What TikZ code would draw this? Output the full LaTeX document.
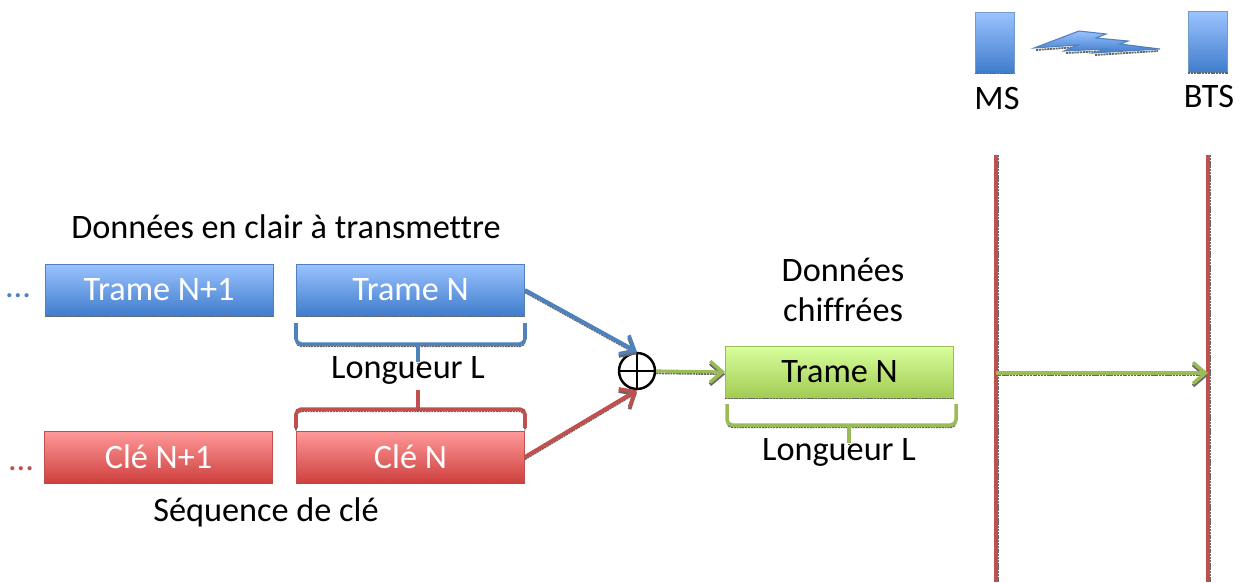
\documentclass[tikz,border=0pt]{standalone}
\usepackage{fontspec}
\setmainfont[Ligatures=NoCommon]{Carlito}
\usetikzlibrary{arrows.meta}
\definecolor{bluel}{HTML}{4F81BD}
\definecolor{redl}{HTML}{C0504D}
\definecolor{greenl}{HTML}{9BBB59}
\definecolor{bluet}{RGB}{155,195,255}
\definecolor{blueb}{RGB}{63,124,203}
\tikzset{
  shad/.style={preaction={draw=black!60, line width=1pt, dash pattern=on 1.2pt off .4pt, transform canvas={yshift=-1.3pt}}},
  block/.style={rectangle, draw=#1, line width=.5pt, inner sep=0pt, minimum width=4.56cm, minimum height=1.04cm, text depth=.2ex, font=\fontsize{19.5}{23}\selectfont},
  blueblock/.style={block=bluel, text=white, top color=bluet, bottom color=blueb},
  redblock/.style={block=redl, text=white, top color={rgb,255:red,255;green,154;blue,154}, bottom color={rgb,255:red,205;green,63;blue,61}},
  greenblock/.style={block=greenl, text=black, top color={rgb,255:red,215;green,255;blue,156}, bottom color={rgb,255:red,162;green,203;blue,83}},
  station/.style={rectangle, draw=bluel!80, line width=.5pt, inner sep=0pt, minimum width=.78cm, minimum height=1.22cm, top color=bluet, bottom color=blueb},
  label/.style={inner sep=0pt, align=center, font=\fontsize{19.5}{23}\selectfont},
  fleche/.style={shad, line width=2.2pt, -{Straight Barb[length=7pt,width=12pt,line width=2pt]}},
  accol/.style={shad, line width=2pt, rounded corners=3pt},
  shadline/.style={black!60, line width=1pt, dash pattern=on 1.2pt off .4pt},
}
\begin{document}
\begin{tikzpicture}[x=0.02cm, y=-0.02cm]
\useasboundingbox (0,0) rectangle (1241,582);
% blocs
\node[blueblock] (trameNp) at (159,290) {Trame N+1};
\node[blueblock] (trameN) at (410.5,290) {Trame N};
\node[redblock] (cleNp) at (158.5,457) {Clé N+1};
\node[redblock] (cleN) at (410.5,457) {Clé N};
\node[greenblock] (chiffre) at (839.5,372) {Trame N};
\node[station] (ms) at (994.5,42.5) {};
\node[station] (bts) at (1208,42) {};
\foreach \n in {trameNp,trameN,cleNp,cleN,chiffre,ms,bts}
  \draw[shadline] (\n.south west)--(\n.south east);
\node[circle, draw, line width=1.4pt, minimum size=.72cm, inner sep=0pt] (xor) at (637,371) {};
\draw[line width=1.4pt] (xor.north)--(xor.south);
\draw[line width=1.4pt] (xor.west)--(xor.east);

% textes
\node[label] (clair) at (286,227) {Données en clair à transmettre};
\node[label] (longA) at (408,370) {Longueur L};
\node[label] (seq) at (266,512) {Séquence de clé};
\node[label] (donnees) at (843,290) {Données\\[-.5pt]chiffrées};
\node[label] (longB) at (839,452) {Longueur L};
\node[label] (mstxt) at (997,98) {MS};
\node[label] (btstxt) at (1209,96) {BTS};
\node[label, text=bluel, anchor=base] (dotsA) at (18,297) {...};
\node[label, text=redl, anchor=base] (dotsB) at (21,470) {...};

% fleches
\draw[fleche, bluel] (trameN.east)--(xor.north);
\draw[fleche, redl] (cleN.east)--(xor.south);
\draw[fleche, greenl, line width=1.8pt] (xor.east)--(chiffre.west);

% accolades
\draw[accol, bluel] (296,323)--(296,344)--(525,344)--(525,323);
\draw[accol, bluel, rounded corners=0pt] (418,344)--(418,362);
\draw[accol, redl] (296,428)--(296,409)--(525,409)--(525,428);
\draw[accol, redl, rounded corners=0pt] (418,409)--(418,390);
\draw[accol, greenl] (727,404)--(727,425)--(956,425)--(956,404);
\draw[accol, greenl, rounded corners=0pt] (849,425)--(849,443);

% liaison radio
\draw[shadline] (1036,50)--(1078,47);
\draw[shadline] (1066,53)--(1106,51);
\draw[shadline] (1095,55)--(1158,51);
\draw[draw=bluel, line width=.6pt, top color=bluet, bottom color=blueb] (1034,48)--(1079,31)--(1106,34)--(1096,38)--(1128,41)--(1120,44)--(1160,49)--(1093,53)--(1106,49)--(1064,51)--(1078,45)--cycle;

% lignes MS et BTS
\coordinate (msH) at (996,155);
\coordinate (msB) at (996,582);
\coordinate (btsH) at (1208,155);
\coordinate (btsB) at (1208,582);
\coordinate (msM) at (996,373);
\coordinate (btsM) at (1208,373);
\draw[shadline, transform canvas={xshift=1.1pt}] (msH)--(msB);
\draw[shadline, transform canvas={xshift=1.1pt}] (btsH)--(btsB);
\draw[redl, line width=2pt] (msH)--(msB);
\draw[redl, line width=2pt] (btsH)--(btsB);
\draw[fleche, greenl, line width=1.8pt] (msM)--(btsM);
\end{tikzpicture}
\end{document}
